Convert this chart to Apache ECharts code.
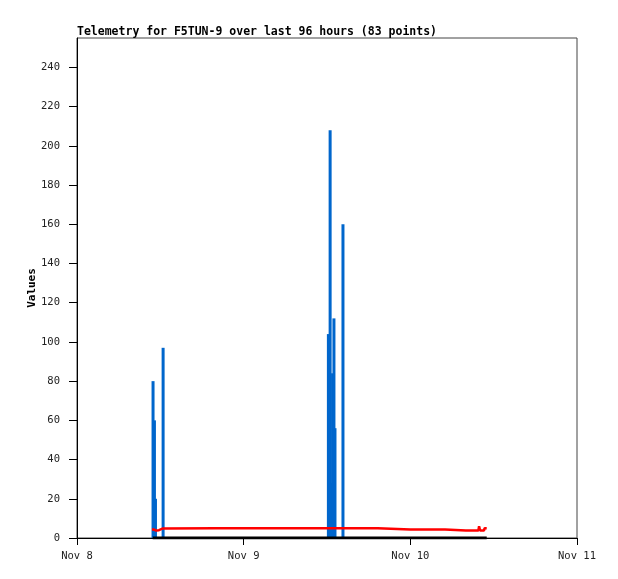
<!DOCTYPE html>
<html>
<head>
<meta charset="utf-8">
<script src="https://cdn.jsdelivr.net/npm/echarts@6/dist/echarts.min.js"></script>
<style>html,body{margin:0;padding:0;background:#fff}#c{width:618px;height:579px}</style>
</head>
<body>
<div id="c"></div>
<script>
// x values are hours since Nov 8 00:00
var xTickLabels = ["Nov 8", "Nov 9", "Nov 10", "Nov 11"];
var yTicks = [0, 20, 40, 60, 80, 100, 120, 140, 160, 180, 200, 220, 240];
var blueTimes = [10.95, 11.15, 11.3, 12.4, 36.2, 36.45, 36.6, 36.8, 37.0, 37.15, 38.3];
var blueValues = [80, 60, 20, 97, 104, 208, 28, 84, 112, 56, 160];
var redTimes = [10.8, 11.1, 11.4, 11.8, 12.3, 20, 30, 36, 40, 43.3, 43.4, 48, 53.0, 53.1, 56, 57.8, 57.9, 58.05, 58.6, 58.7, 59.0];
var redValues = [4.3, 3.8, 4.0, 4.8, 5.0, 5.0, 5.0, 5.0, 5.0, 5.0, 4.3, 4.3, 4.3, 3.8, 3.8, 3.8, 6.0, 3.8, 3.8, 5.0, 5.0];
var blackTimes = [10.9, 59.0];
var blackValues = [0, 0];

function pairs(xs, ys) { return xs.map(function (x, i) { return [x, ys[i]]; }); }

var chart = echarts.init(document.getElementById('c'));
chart.setOption({
  animation: false,
  title: {
    text: 'Telemetry for F5TUN-9 over last 96 hours (83 points)',
    left: 77, top: 26, padding: 0,
    textStyle: { fontFamily: 'DejaVu Sans Mono', fontWeight: 'bold', fontSize: 11.5, color: '#000' }
  },
  grid: { left: 77, right: 41, top: 38, bottom: 41, show: true, borderColor: '#444', borderWidth: 1 },
  xAxis: {
    type: 'value', min: 0, max: 72, interval: 24,
    axisLine: { show: true, lineStyle: { color: '#000', width: 1 } },
    axisTick: { show: true, length: 7, lineStyle: { color: '#000' } },
    splitLine: { show: false },
    axisLabel: {
      margin: 13, fontFamily: 'DejaVu Sans Mono', fontSize: 10.5, color: '#222',
      formatter: function (v) { return xTickLabels[Math.round(v / 24)]; }
    }
  },
  yAxis: {
    type: 'value', min: 0, max: 255,
    name: 'Values', nameLocation: 'middle', nameRotate: 90, nameGap: 39,
    nameMoveOverlap: false,
    nameTextStyle: { fontFamily: 'DejaVu Sans Mono', fontWeight: 'bold', fontSize: 11, color: '#000' },
    axisLine: { show: true, lineStyle: { color: '#000', width: 1 } },
    axisTick: { show: true, length: 8, customValues: yTicks, lineStyle: { color: '#000' } },
    splitLine: { show: false },
    axisLabel: {
      margin: 17, fontFamily: 'DejaVu Sans Mono', fontSize: 10.5, color: '#222',
      customValues: yTicks
    }
  },
  series: [
    {
      type: 'bar', data: pairs(blueTimes, blueValues), barWidth: 3,
      itemStyle: { color: '#0066cc' }, z: 2
    },
    {
      type: 'line', data: pairs(redTimes, redValues), symbol: 'none', step: 'end',
      lineStyle: { color: '#ff0000', width: 2.5 }, z: 3
    },
    {
      type: 'line', data: pairs(blackTimes, blackValues), symbol: 'none',
      lineStyle: { color: '#000', width: 3 }, z: 4
    }
  ]
});
</script>
</body>
</html>
